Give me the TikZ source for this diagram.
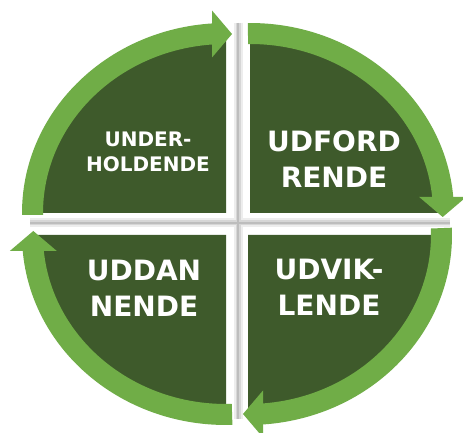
\documentclass[tikz,border=0pt]{standalone}
\usepackage{fontspec}
\setmainfont{DejaVu Sans}
\usetikzlibrary{calc}
\definecolor{darkgreen}{HTML}{3E5A2B}
\definecolor{lightgreen}{HTML}{70AD47}
\newcommand\bandarc[3]{%
  \fill[band] ($(#1)+(#2:204pt and 190pt)$) arc[start angle=#2,end angle=#3,x radius=204pt,y radius=190pt]
    -- ($(#1)+(#3:183pt and 169pt)$) arc[start angle=#3,end angle=#2,x radius=183pt,y radius=169pt] -- cycle;}
\begin{document}
\begin{tikzpicture}[x=1pt,y=1pt,
  quad/.style={fill=darkgreen},
  band/.style={fill=lightgreen},
  shadeA/.style={draw=black!7, line width=9pt},
  shadeB/.style={draw=black!16, line width=5pt},
  shadeC/.style={draw=black!26, line width=2pt},
  bigtext/.style={text=white, font=\fontsize{28}{36}\selectfont\bfseries, align=center, inner sep=0pt},
  smalltext/.style={text=white, font=\fontsize{20}{24.5}\selectfont\bfseries, align=center, inner sep=0pt}]
\fill[white] (0,0) rectangle (463,433);
\useasboundingbox (0,0) rectangle (463,433);
\coordinate (tl) at (226,220);
\coordinate (tr) at (250,220);
\coordinate (bl) at (226,198);
\coordinate (br) at (248,198);
\coordinate (vtop) at (238,410);
\coordinate (vbot) at (238,14);
\coordinate (hleft) at (30,210);
\coordinate (hright) at (450,210);
% soft shadows in the gutters
\foreach \s in {shadeA,shadeB,shadeC}{
  \draw[\s] (vtop) -- (vbot);
  \draw[\s] (hleft) -- (hright);
}
% quadrants
\fill[quad] (tl) -- ++(-195,0) arc[start angle=180,end angle=90,x radius=195pt,y radius=181pt] -- cycle;
\fill[quad] (tr) -- ++(0,181) arc[start angle=90,end angle=0,x radius=195pt,y radius=181pt] -- cycle;
\fill[quad] (br) -- ++(195,0) arc[start angle=0,end angle=-90,x radius=195pt,y radius=181pt] -- cycle;
\fill[quad] (bl) -- ++(0,-181) arc[start angle=270,end angle=180,x radius=195pt,y radius=181pt] -- cycle;
% curved arrows
\bandarc{tl}{180.6}{93.6}
\fill[band] (212,422.5) -- (232,399) -- (212,375.5) -- cycle;
\bandarc{tr}{90.6}{4.6}
\fill[band] (419.2,236) -- (442.7,216) -- (466.2,236) -- cycle;
\bandarc{br}{2.2}{-86}
\fill[band] (263,42.5) -- (243,19) -- (263,-4.5) -- cycle;
\bandarc{bl}{271.8}{184.6}
\fill[band] (9.8,182) -- (33.3,202) -- (56.8,182) -- cycle;
% labels
\node[smalltext] (t1) at (148,281) {UNDER-\\HOLDENDE};
\node[bigtext] (t2) at (334,273.5) {UDFORD\\RENDE};
\node[bigtext] (t3) at (144,145) {UDDAN\\NENDE};
\node[bigtext] (t4) at (329,146) {UDVIK-\\LENDE};
\end{tikzpicture}
\end{document}
